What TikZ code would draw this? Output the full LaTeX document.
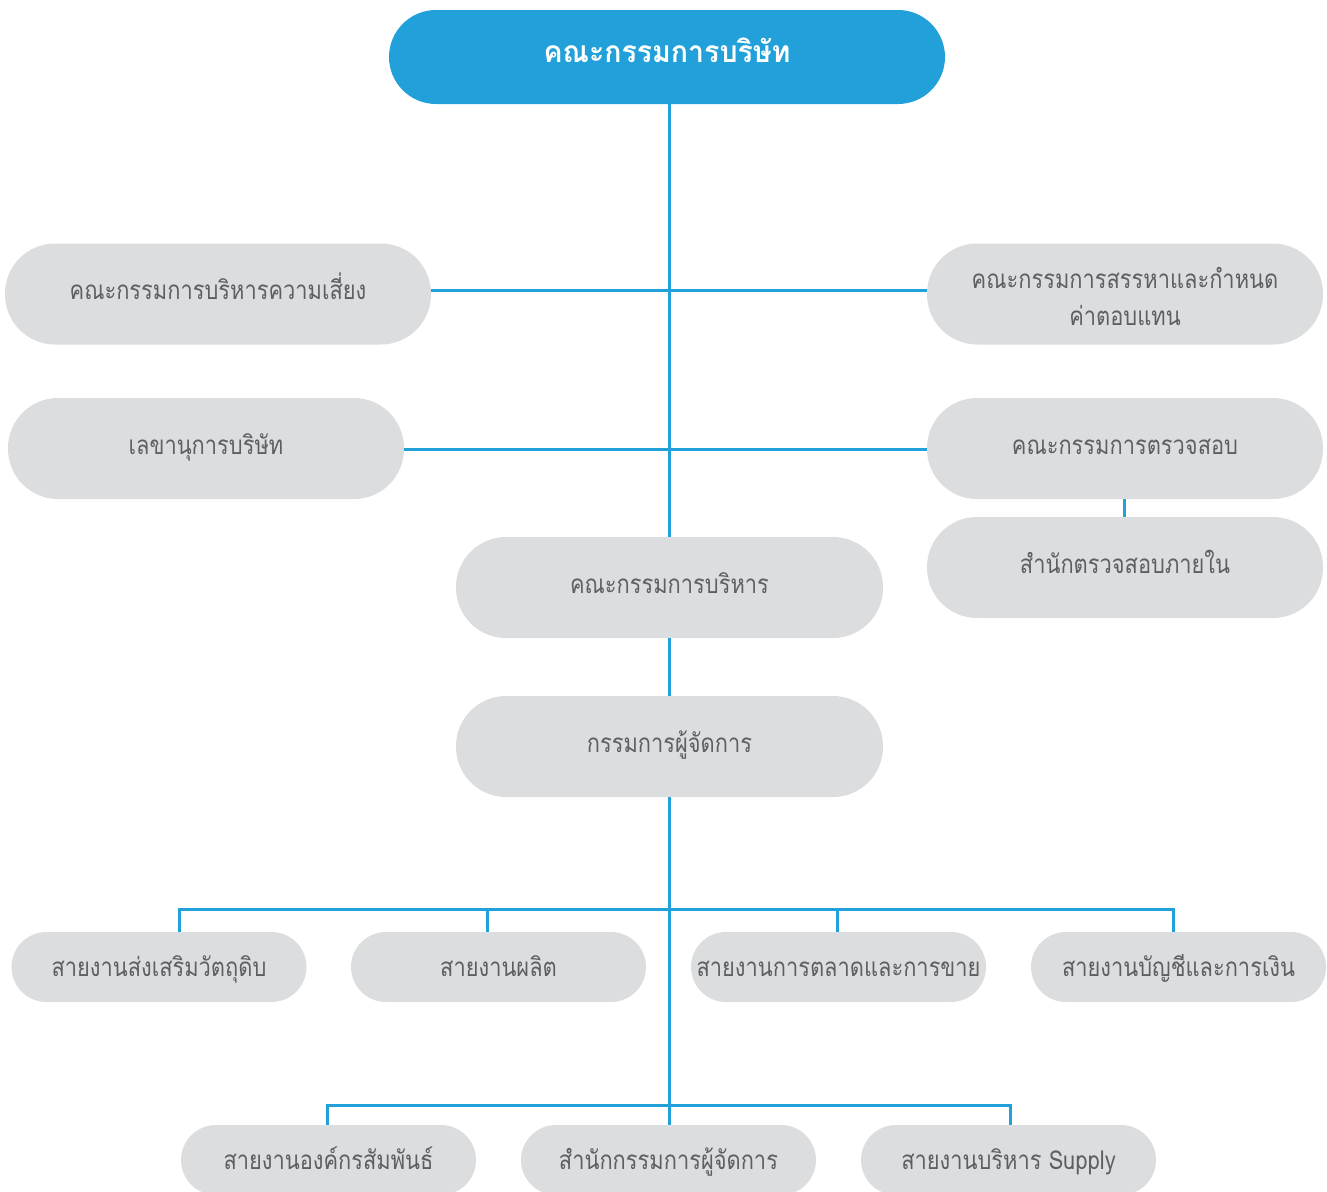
\documentclass[tikz,border=0pt]{standalone}
\usepackage{fontspec}
\newfontfamily\thaifont[Script=Thai,FakeStretch=0.84]{Loma}
\newfontfamily\thaititle[Script=Thai,FakeStretch=0.95]{Loma}
\definecolor{lblue}{HTML}{22A0D9}
\definecolor{pillgray}{HTML}{DCDDDF}
\definecolor{txtgray}{HTML}{5E5F61}
\tikzset{
  pill/.style={rectangle, fill=pillgray, text=txtgray, inner sep=0pt, align=center,
    text height=22pt, text depth=4pt,
    font=\thaifont\fontsize{26}{37}\selectfont},
  bigpill/.style={pill, minimum width=#1, minimum height=101pt, rounded corners=50pt,
    text height=19pt, text depth=8pt},
  smallpill/.style={pill, minimum width=295pt, minimum height=70pt, rounded corners=35pt},
  link/.style={draw=lblue, line width=3pt}
}
\begin{document}
\begin{tikzpicture}[x=1pt,y=-1pt]
\useasboundingbox (0,0) rectangle (1327,1191);
\clip (0,0) rectangle (1327,1191);
% nodes
\node[rectangle, fill=lblue, text=white, rounded corners=47pt, minimum width=556pt, minimum height=94pt,
  inner sep=0pt, text height=18pt, text depth=8pt,
  font=\thaititle\bfseries\fontsize{30}{36}\selectfont] (board) at (667,57) {คณะกรรมการบริษัท};
\node[bigpill=426pt] (risk) at (218,294) {คณะกรรมการบริหารความเสี่ยง};
\node[bigpill=396pt, text height=65pt, text depth=3pt] (nom) at (1125,294) {คณะกรรมการสรรหาและกำหนด\\ค่าตอบแทน};
\node[bigpill=396pt] (sec) at (206,448.5) {เลขานุการบริษัท};
\node[bigpill=396pt] (audit) at (1125,448.5) {คณะกรรมการตรวจสอบ};
\node[bigpill=396pt] (ia) at (1125,567.5) {สำนักตรวจสอบภายใน};
\node[bigpill=427pt] (exec) at (669.5,587.5) {คณะกรรมการบริหาร};
\node[bigpill=427pt] (md) at (669.5,746.5) {กรรมการผู้จัดการ};
\node[smallpill] (d1) at (159,967) {สายงานส่งเสริมวัตถุดิบ};
\node[smallpill] (d2) at (498.5,967) {สายงานผลิต};
\node[smallpill] (d3) at (838.5,967) {สายงานการตลาดและการขาย};
\node[smallpill] (d4) at (1178.5,967) {สายงานบัญชีและการเงิน};
\node[smallpill] (e1) at (328.5,1160) {สายงานองค์กรสัมพันธ์};
\node[smallpill] (e2) at (668.5,1160) {สำนักกรรมการผู้จัดการ};
\node[smallpill] (e3) at (1008.5,1160) {สายงานบริหาร Supply};
% coordinates
\coordinate (t1) at (669,290);
\coordinate (t2) at (669,449);
\coordinate (b1a) at (179,909);
\coordinate (b1b) at (487,909);
\coordinate (b1c) at (837,909);
\coordinate (b1d) at (1173,909);
\coordinate (b2a) at (327,1105);
\coordinate (b2c) at (1010,1105);
% links
\draw[link] (board.south -| t1) -- (exec.north -| t1);
\draw[link] (risk.east |- t1) -- (nom.west |- t1);
\draw[link] (sec.east |- t2) -- (audit.west |- t2);
\draw[link] ([xshift=-1pt]audit.south) -- ([xshift=-1pt]ia.north);
\draw[link] (exec.south -| t1) -- (md.north -| t1);
\draw[link] (md.south -| t1) -- (e2.north -| t1);
\draw[link] (b1a |- d1.north) -- (b1a) -- (b1d) -- (b1d |- d4.north);
\draw[link] (b1b) -- (b1b |- d2.north);
\draw[link] (b1c) -- (b1c |- d3.north);
\draw[link] (b2a |- e1.north) -- (b2a) -- (b2c) -- (b2c |- e3.north);
\end{tikzpicture}
\end{document}
